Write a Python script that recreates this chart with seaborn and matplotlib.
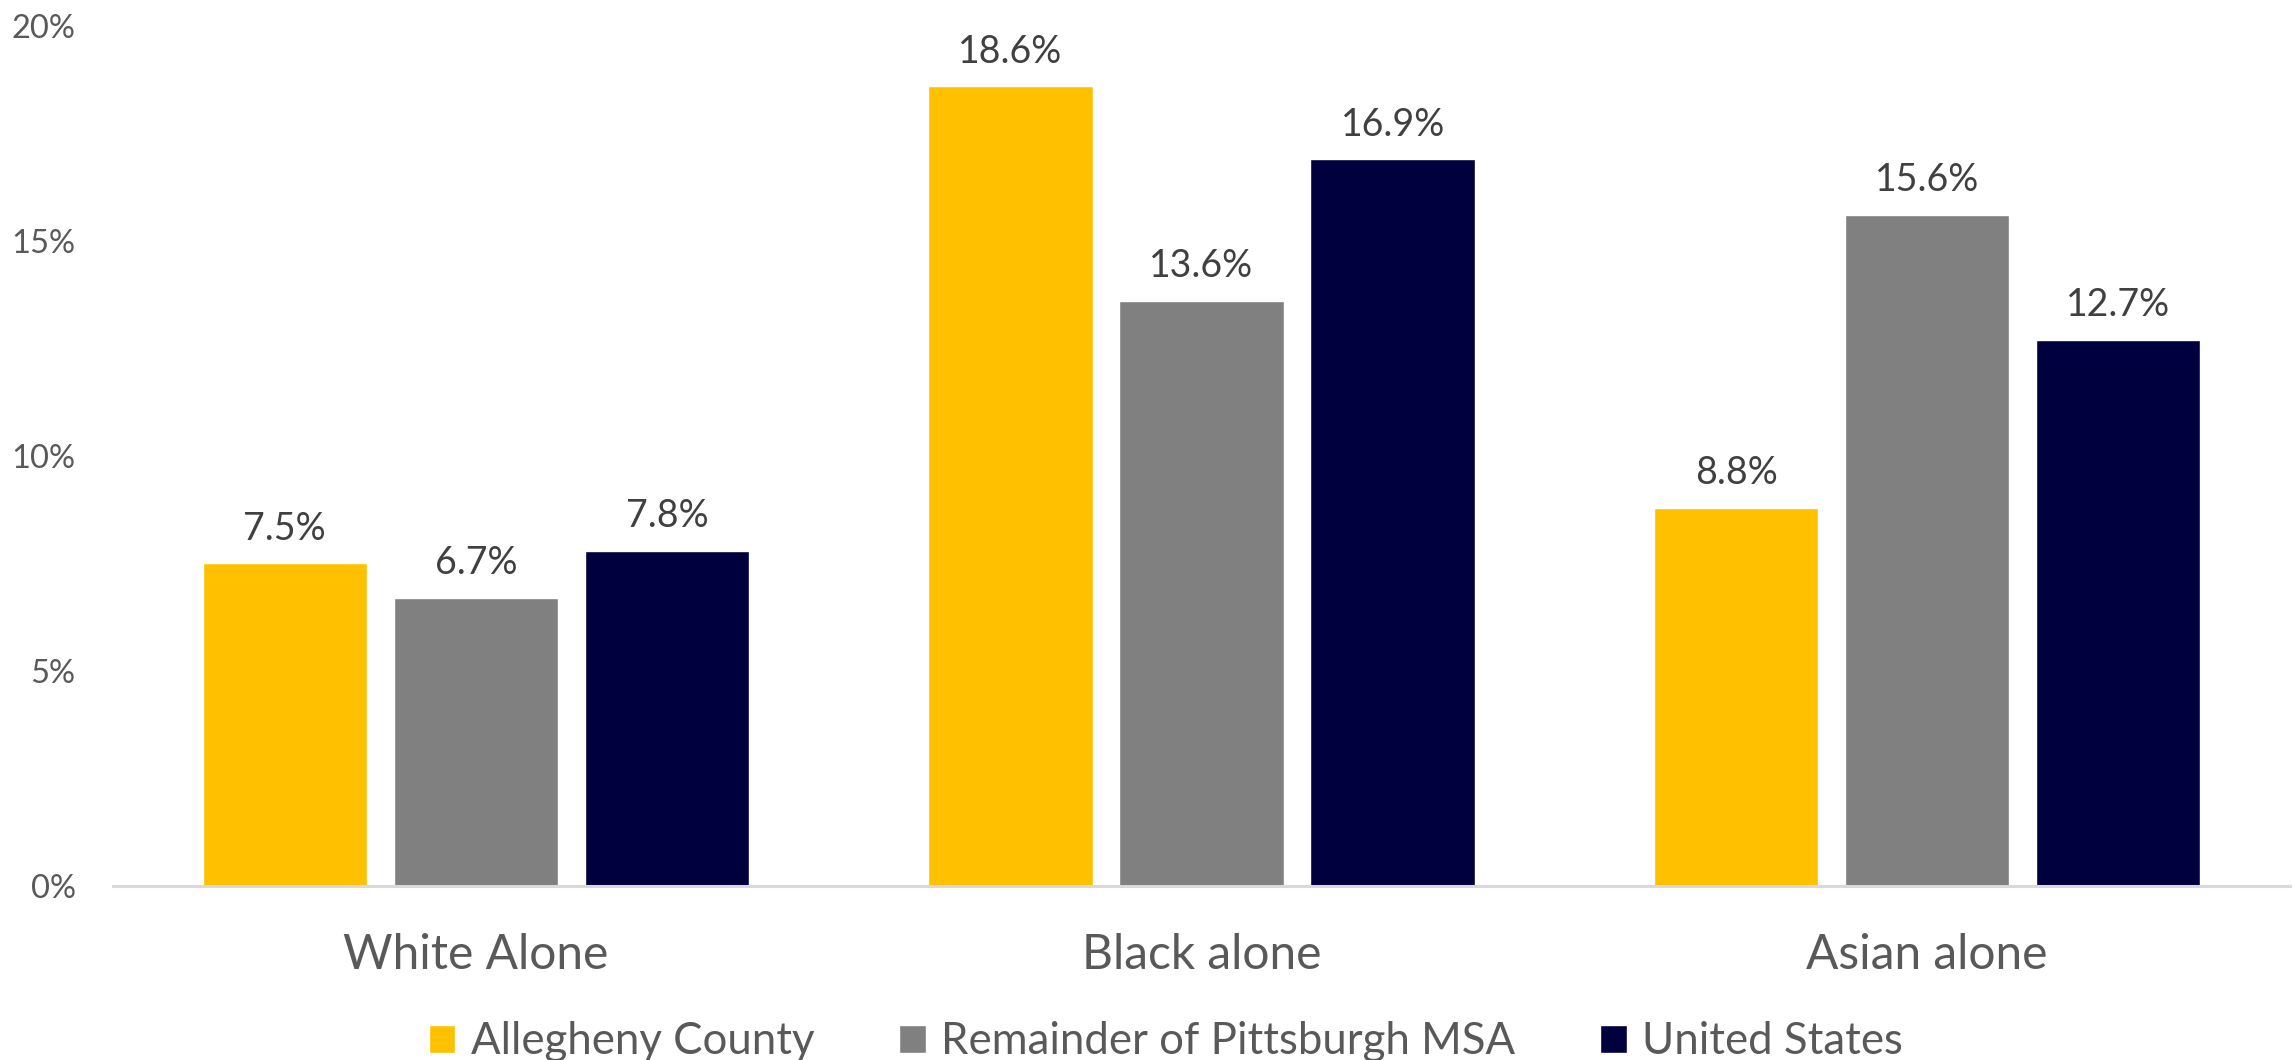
import matplotlib
matplotlib.use("Agg")
import matplotlib.pyplot as plt
import seaborn as sns
import pandas as pd

# Share of population by race, three geographies
categories = ["White Alone", "Black alone", "Asian alone"]
series_names = ["Allegheny County", "Remainder of Pittsburgh MSA", "United States"]
allegheny = [7.5, 18.6, 8.8]
remainder_msa = [6.7, 13.6, 15.6]
united_states = [7.8, 16.9, 12.7]
y_ticks = [0, 5, 10, 15, 20]

colors = ["#FFC000", "#808080", "#00003F"]

rows = []
for name, vals in zip(series_names, [allegheny, remainder_msa, united_states]):
    for cat, v in zip(categories, vals):
        rows.append({"category": cat, "series": name, "value": v})
df = pd.DataFrame(rows)

sns.set_theme(style="white")
plt.rcParams["font.family"] = ["Lato", "DejaVu Sans"]

fig = plt.figure(figsize=(22.93, 10.60), dpi=100)
ax = fig.add_axes([0.0493, 0.1642, 0.9494, 0.8113])

sns.barplot(data=df, x="category", y="value", hue="series",
            order=categories, hue_order=series_names,
            palette=colors, width=0.79, gap=0.14, saturation=1,
            errorbar=None, ax=ax, legend=True)

ax.set_xlim(-0.5, 2.5)
ax.set_ylim(0, 20)
ax.set_yticks(y_ticks)
ax.set_yticklabels([f"{t}%" for t in y_ticks])
ax.set_xlabel("")
ax.set_ylabel("")

for side in ["top", "right", "left"]:
    ax.spines[side].set_visible(False)
ax.spines["bottom"].set_color("#D9D9D9")
ax.spines["bottom"].set_linewidth(2.2)

ax.tick_params(axis="y", length=0, pad=27, labelsize=23.5, labelcolor="#595959")
ax.tick_params(axis="x", length=0, pad=34, labelsize=34.5, labelcolor="#595959")

# value labels above each bar
for container in ax.containers:
    labels = [f"{b.get_height():.1f}%" for b in container]
    ax.bar_label(container, labels=labels, padding=12, fontsize=27, color="#404040")

handles, labels = ax.get_legend_handles_labels()
ax.legend(handles, labels, loc="center", bbox_to_anchor=(1166 / 2293, 1 - 1042 / 1060),
          bbox_transform=fig.transFigure, ncol=3, frameon=False,
          fontsize=31.5, labelcolor="#595959",
          handlelength=0.6, handleheight=0.62, handletextpad=0.35,
          columnspacing=1.95)

fig.savefig("out.png", dpi=100, facecolor="white")
